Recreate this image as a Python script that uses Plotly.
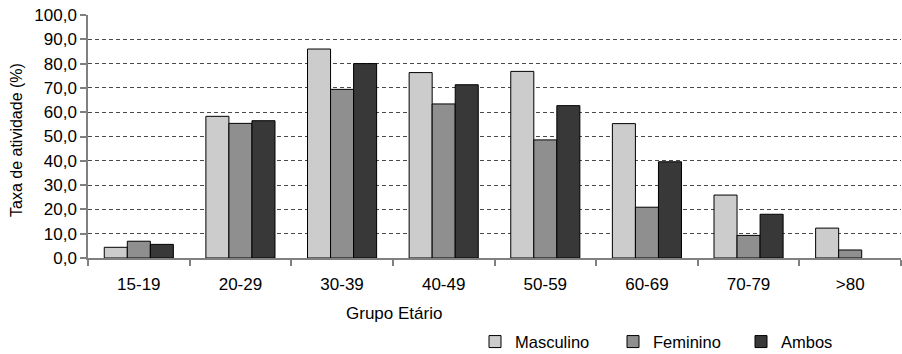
import plotly.graph_objects as go

# dados
grupos = ['15-19', '20-29', '30-39', '40-49', '50-59', '60-69', '70-79', '>80']
masculino = [4.4, 58.3, 86.0, 76.3, 76.8, 55.3, 25.9, 12.3]
feminino = [6.9, 55.4, 69.4, 63.4, 48.6, 20.9, 9.3, 3.3]
ambos = [5.6, 56.5, 80.0, 71.3, 62.7, 39.6, 18.0, None]

fnt = dict(family='Liberation Sans, Arial, sans-serif', size=17, color='black')
fnt_small = dict(fnt, size=16)
fnt_leg = dict(fnt, size=16.5)

fig = go.Figure()
fig.add_trace(go.Bar(x=grupos, y=masculino, name='Masculino', legend='legend',
                     marker=dict(color='#cccccc', line=dict(color='black', width=1))))
fig.add_trace(go.Bar(x=grupos, y=feminino, name='Feminino', legend='legend2',
                     marker=dict(color='#8f8f8f', line=dict(color='black', width=1))))
fig.add_trace(go.Bar(x=grupos, y=ambos, name='Ambos', legend='legend3',
                     marker=dict(color='#383838', line=dict(color='black', width=1))))

# uma legenda por série para acertar o espaçamento do original
def leg(px):
    return dict(orientation='h', x=(px - 88) / 813, xanchor='left', y=-0.273, yanchor='top',
                font=fnt_leg, itemwidth=30, bgcolor='rgba(0,0,0,0)')

fig.update_layout(
    width=902, height=354,
    margin=dict(l=88, r=1, t=15, b=96, autoexpand=False),
    paper_bgcolor='white', plot_bgcolor='white',
    font=fnt,
    separators=',.',
    barmode='group', bargap=0.32, bargroupgap=0,
    showlegend=True,
    legend=leg(475), legend2=leg(613), legend3=leg(741),
)

fig.update_xaxes(
    range=[-0.5, 7.5], tickson='boundaries', ticks='outside', ticklen=6,
    tickcolor='#808080', tickwidth=1.5,
    showline=True, linecolor='#808080', linewidth=1.5,
    showgrid=False, tickfont=fnt, ticklabelstandoff=10, automargin=False,
)
fig.update_yaxes(
    range=[0, 100], dtick=10, tickformat='.1f', ticks='outside', ticklen=6,
    tickcolor='#808080', tickwidth=1.5,
    showline=True, linecolor='#808080', linewidth=1.5,
    showgrid=True, gridcolor='#4a4a4a', gridwidth=1, griddash='4px,3px',
    zeroline=False, tickfont=fnt, automargin=False,
)

# títulos dos eixos como anotações para posicionar como no original
fig.add_annotation(text='Grupo Etário', xref='paper', yref='paper',
                   x=(394 - 88) / 813, y=(258 - 313) / 243,
                   xanchor='center', yanchor='middle', showarrow=False, font=fnt)
fig.add_annotation(text='Taxa de atividade (%)', xref='paper', yref='paper',
                   x=(16 - 88) / 813, y=(258 - 140) / 243, textangle=-90,
                   xanchor='center', yanchor='middle', showarrow=False, font=fnt_small)

# sem margem na página, para o gráfico ocupar a janela toda
fig.write_html('out.html', config={'displayModeBar': False},
               post_script="document.body.style.margin='0';")
